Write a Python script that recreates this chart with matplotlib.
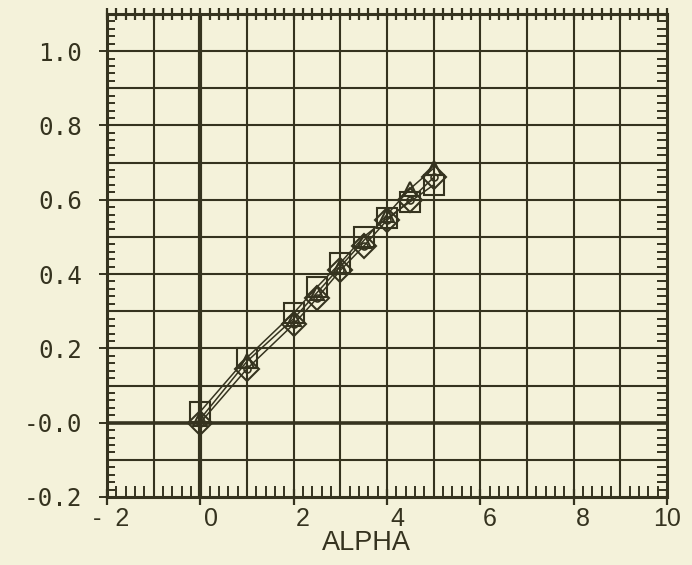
import numpy as np
import matplotlib
matplotlib.use('Agg')
import matplotlib.pyplot as plt
from matplotlib.ticker import MultipleLocator, FixedLocator
from matplotlib.transforms import ScaledTranslation

# values
alpha = [0.0, 1.0, 2.0, 2.5, 3.0, 3.5, 4.0, 4.5, 5.0]
squares = [0.03, 0.175, 0.295, 0.365, 0.43, 0.50, 0.55, 0.595, 0.64]
triangles = [0.01, 0.165, 0.28, 0.35, 0.42, 0.49, 0.56, 0.63, 0.685]
diamonds = [0.0, 0.145, 0.265, 0.335, 0.41, 0.475, 0.545, 0.60, 0.66]

xticks = [-2, 0, 2, 4, 6, 8, 10]
xticklabels = ['-  2', '0', '2', '4', '6', '8', '10']
yticks = [-0.2, 0.0, 0.2, 0.4, 0.6, 0.8, 1.0]
yticklabels = ['-0.2', '-0.0', '0.2', '0.4', '0.6', '0.8', '1.0']

ink = '#35331f'
paper = '#f4f2da'

fig = plt.figure(figsize=(6.92, 5.65), dpi=100, facecolor=paper)
ax = fig.add_axes([0.1546, 0.1204, 0.8093, 0.8548])
ax.set_facecolor(paper)
ax.set_xlim(-2, 10)
ax.set_ylim(-0.2, 1.1)

# grid
for gx in range(-1, 10):
    ax.axvline(gx, color=ink, lw=3.0 if gx == 0 else 1.5, zorder=1)
for gy in np.arange(-0.1, 1.05, 0.1):
    ax.axhline(gy, color=ink, lw=2.6 if abs(gy) < 1e-9 else 1.5, zorder=1)

for sp in ax.spines.values():
    sp.set_color(ink)
    sp.set_linewidth(2.2)

# curves
ax.plot(alpha, squares, '-', color=ink, lw=1.1, marker='s', ms=14, mfc='none',
        mec=ink, mew=1.5, zorder=3)
ax.plot(alpha, triangles, '-', color=ink, lw=1.1, marker='^', ms=10, mfc='none',
        mec=ink, mew=1.5, zorder=3)
ax.plot(alpha, diamonds, '-', color=ink, lw=1.1, marker='D', ms=12, mfc='none',
        mec=ink, mew=1.5, zorder=3)
ax.plot(alpha, diamonds, 'o', ms=5, mfc='none', mec=ink, mew=1.2, zorder=3)

# ticks
ax.xaxis.set_major_locator(FixedLocator(xticks))
ax.xaxis.set_minor_locator(MultipleLocator(0.2))
ax.yaxis.set_major_locator(FixedLocator(yticks))
ax.yaxis.set_minor_locator(MultipleLocator(0.02))
ax.set_xticklabels(xticklabels, fontsize=18, family='Liberation Sans', color=ink)
ax.set_yticklabels(yticklabels, fontsize=17.5, family='DejaVu Sans Mono', color=ink)
ax.tick_params(axis='x', which='major', direction='inout', length=12, width=1.6,
               color=ink, pad=1, top=False)
ax.tick_params(axis='x', which='minor', direction='in', length=8, width=1.4,
               color=ink, top=False)
ax.tick_params(axis='y', which='major', direction='inout', length=12, width=1.4,
               color=ink, pad=12, right=False)
ax.tick_params(axis='y', which='minor', direction='in', length=6, width=1.4,
               color=ink, right=False)

top = ax.secondary_xaxis('top')
top.xaxis.set_major_locator(MultipleLocator(0.2))
top.tick_params(axis='x', which='major', direction='inout', length=9, width=1.6,
                color=ink, labeltop=False)
top.spines['top'].set_visible(False)

right = ax.secondary_yaxis('right')
right.yaxis.set_major_locator(MultipleLocator(0.02))
right.tick_params(axis='y', which='major', direction='in', length=7, width=1.4,
                  color=ink, labelright=False)
right.spines['right'].set_visible(False)

offsets = [4, 11, 9, 10, 9, 9, 0]
for lab, dx in zip(ax.get_xticklabels(), offsets):
    lab.set_transform(lab.get_transform() + ScaledTranslation(dx / 100, 0, fig.dpi_scale_trans))

ax.set_xlabel('ALPHA', fontsize=19.5, family='Liberation Sans', color=ink)
ax.xaxis.set_label_coords(0.4625, -0.068)

fig.savefig('out.png', dpi=100, facecolor=paper)
